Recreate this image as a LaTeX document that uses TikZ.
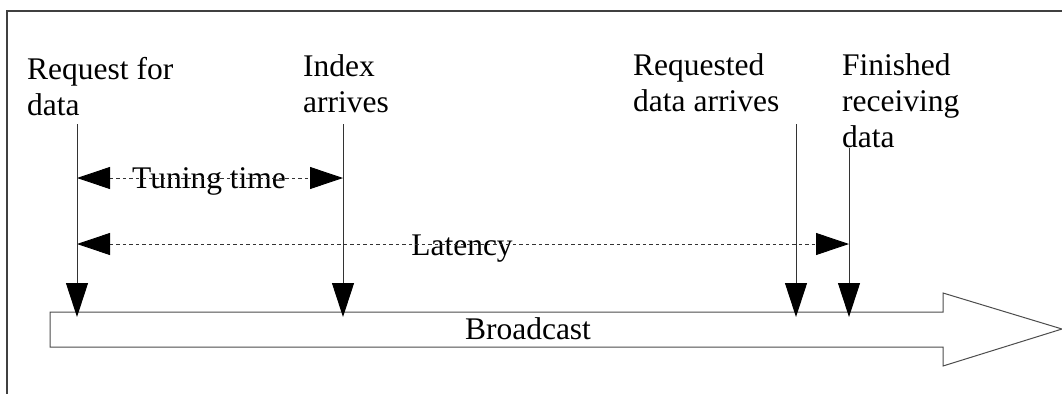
\documentclass[tikz,border=0pt]{standalone}
\usepackage{fontspec}
\setmainfont{Liberation Serif}
\usetikzlibrary{arrows.meta}
\tikzset{
  lbl/.style={anchor=base west, inner sep=0pt, align=left, font=\fontsize{31.5}{36}\selectfont},
  midlbl/.style={anchor=base, inner sep=0pt, font=\fontsize{31.5}{36}\selectfont},
  event/.style={draw=black!80, line width=1pt, -{Triangle[length=34pt,width=22pt,color=black]}},
  span/.style={draw=black!80, line width=0.9pt, dash pattern=on 3.5pt off 3pt,
    {Triangle[length=33pt,width=22pt,color=black]}-{Triangle[length=33pt,width=22pt,color=black]}},
  frameline/.style={draw=black!75, line width=1.2pt},
}
\begin{document}
\begin{tikzpicture}[x=1pt,y=-1pt]
\useasboundingbox (0,0) rectangle (1062,394);
% frame
\draw[frameline] (1062,11) -- (7,11) -- (7,394);
% broadcast arrow
\draw[draw=black!70, line width=1pt, fill=white]
  (50,312) -- (943,312) -- (943,293) -- (1062,329) -- (943,366) -- (943,347) -- (50,347) -- cycle;
\node[midlbl] (bc) at (528,339) {Broadcast};
% labels (anchor = baseline of last line)
\node[lbl] (req) at (27,115) {Request for\\data};
\node[lbl] (idx) at (303,112) {Index\\arrives};
\node[lbl] (rqd) at (633,111) {Requested\\data arrives};
\node[lbl] (fin) at (842,147) {Finished\\receiving\\data};
% coordinates
\coordinate (reqT) at (77,124);
\coordinate (reqB) at (77,317);
\coordinate (idxT) at (343,124);
\coordinate (idxB) at (343,317);
\coordinate (rqdT) at (796,124);
\coordinate (rqdB) at (796,317);
\coordinate (finT) at (849,148);
\coordinate (finB) at (849,317);
\coordinate (tuneL) at (77,178);
\coordinate (tuneR) at (343,178);
\coordinate (latL) at (77,244);
\coordinate (latR) at (849,244);
% span labels
\node[midlbl] (tune) at (209,188) {Tuning time};
\node[midlbl] (lat) at (462,255) {Latency};
% spans
\draw[span] (tuneL) -- (tuneR);
\draw[span] (latL) -- (latR);
% events
\draw[event] (reqT) -- (reqB);
\draw[event] (idxT) -- (idxB);
\draw[event] (rqdT) -- (rqdB);
\draw[event] (finT) -- (finB);
\end{tikzpicture}
\end{document}
